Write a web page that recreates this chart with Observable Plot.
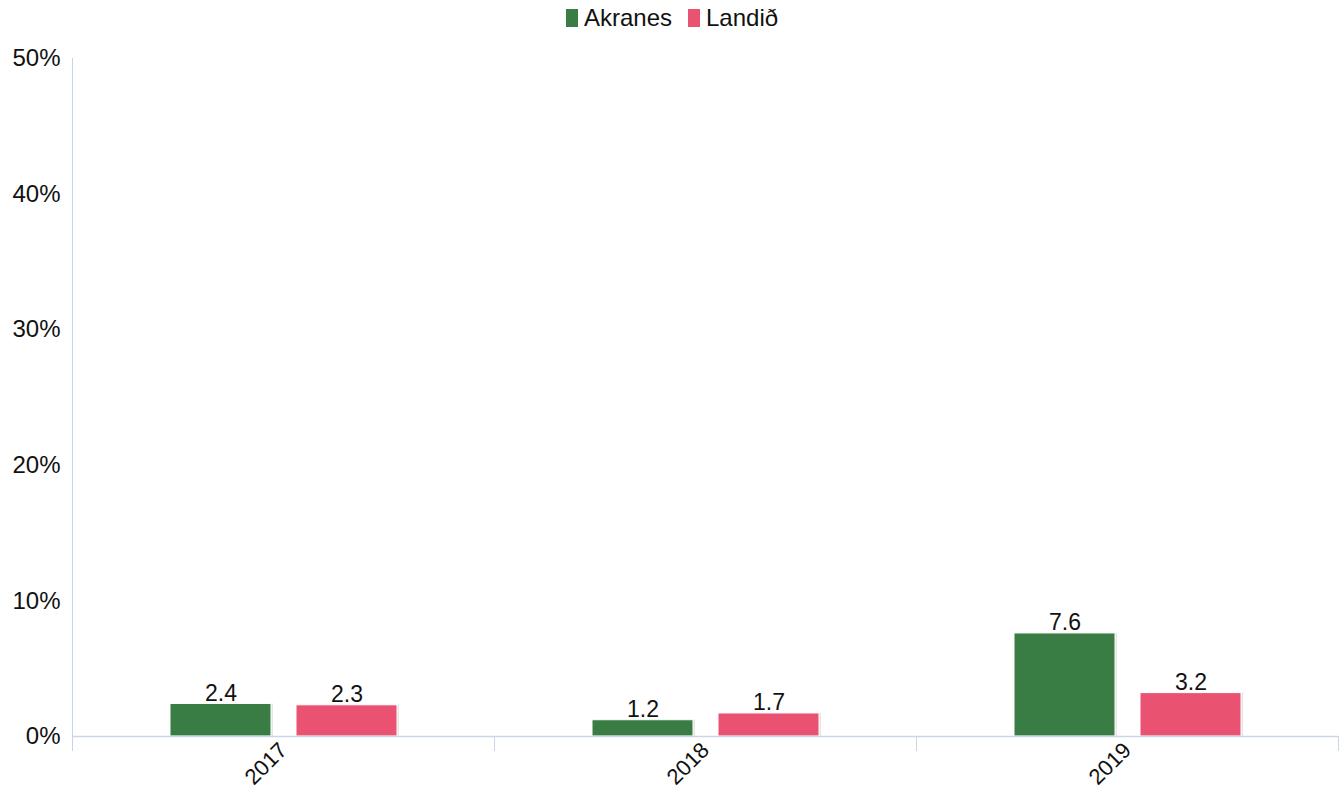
<!DOCTYPE html>
<html>
<head>
<meta charset="utf-8">
<script src="https://cdn.jsdelivr.net/npm/d3@7"></script>
<script src="https://cdn.jsdelivr.net/npm/@observablehq/plot@0.6"></script>
<style>
  html, body { margin: 0; padding: 0; background: #fff; }
  body { width: 1344px; height: 789px; overflow: hidden; font-family: "Liberation Sans", Arial, sans-serif; }
  #legend { height: 36px; display: flex; justify-content: center; align-items: center; gap: 16px; font-size: 24px; color: #111; }
  .item { display: flex; align-items: center; gap: 6px; }
  .sw { width: 12px; height: 18px; display: inline-block; }
  #chart svg { display: block; }
</style>
</head>
<body>
<div id="legend"></div>
<div id="chart"></div>
<script>
const years = ["2017", "2018", "2019"];
const series = ["Akranes", "Landið"];
const akranes = [2.4, 1.2, 7.6];
const landid = [2.3, 1.7, 3.2];
const colors = ["#3a7d44", "#e95371"];
const yTicks = [0, 10, 20, 30, 40, 50];

const data = [];
years.forEach((y, i) => {
  data.push({year: y, series: series[0], value: akranes[i]});
  data.push({year: y, series: series[1], value: landid[i]});
});

const legend = document.getElementById("legend");
series.forEach((s, i) => {
  const it = document.createElement("span");
  it.className = "item";
  it.innerHTML = `<span class="sw" style="background:${colors[i]}"></span><span>${s}</span>`;
  legend.appendChild(it);
});

const W = 1344, H = 753, mt = 22, mb = 53, ml = 72, mr = 6;
const innerH = H - mt - mb;
const axisColor = "#ccd6eb";

const chart = Plot.plot({
  width: W,
  height: H,
  marginTop: mt,
  marginBottom: mb,
  marginLeft: ml,
  marginRight: mr,
  style: {fontFamily: "'Liberation Sans', Arial, sans-serif", fontSize: "22px", color: "#111", background: "#fff"},
  fx: {domain: years, padding: 0, label: null, axis: null},
  x: {domain: series, paddingInner: 0.2, paddingOuter: 0.767, axis: null},
  y: {domain: [0, 50], label: null},
  color: {domain: series, range: colors},
  marks: [
    Plot.axisY({ticks: yTicks, tickFormat: d => d + "%", tickSize: 0, tickPadding: 12, fontSize: 24, label: null, anchor: "left"}),
    Plot.axisFx({anchor: "bottom", tickSize: 0, tickRotate: -45, tickPadding: 10, fontSize: 22, label: null}),
    Plot.barY(data, {fx: "year", x: "series", y: "value", fill: "#000", fillOpacity: 0.1, dx: 2}),
    Plot.barY(data, {fx: "year", x: "series", y: "value", fill: "series", stroke: "#fff", strokeWidth: 1}),
    Plot.text(data, {fx: "year", x: "series", y: "value", text: d => d.value.toFixed(1), lineAnchor: "bottom", dy: -3, fontSize: 23, fill: "#111"}),
    Plot.ruleY([0], {stroke: axisColor, strokeWidth: 1.5}),
    Plot.frame({anchor: "left", stroke: axisColor, insetTop: innerH, insetBottom: -14}),
    Plot.frame({anchor: "right", stroke: axisColor, insetTop: innerH, insetBottom: -14}),
    Plot.frame({anchor: "left", stroke: "#c6d5e8", insetBottom: -14, fx: [years[0]]})
  ]
});
document.getElementById("chart").appendChild(chart);
</script>
</body>
</html>
